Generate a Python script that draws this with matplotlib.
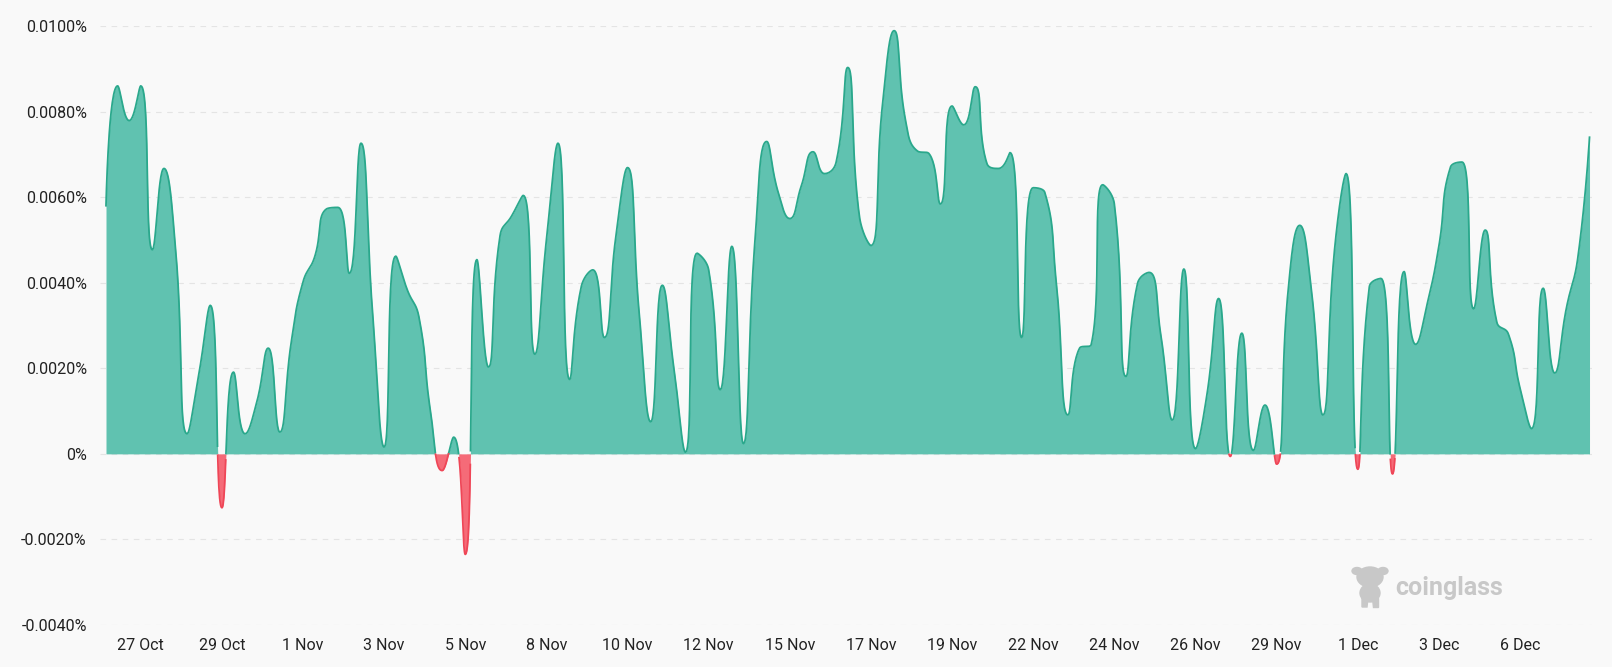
import numpy as np
import pandas as pd
import matplotlib
matplotlib.use("Agg")
import matplotlib.pyplot as plt
from matplotlib.ticker import FixedLocator, FuncFormatter
from matplotlib.patches import Ellipse, Polygon
from matplotlib.transforms import IdentityTransform

# ---------------- data (funding rate, %) ----------------
start_time = "2024-10-26 08:00"
interval = "8h"
funding_rate = [
    0.00580, 0.00860, 0.00779, 0.00860, 0.00477, 0.00667, 0.00480, 0.00047, 0.00185, 0.00347,
    -0.00126, 0.00191, 0.00047, 0.00120, 0.00247, 0.00051, 0.00264, 0.00402, 0.00460, 0.00572,
    0.00576, 0.00422, 0.00726, 0.00330, 0.00016, 0.00462, 0.00383, 0.00320, 0.00099, -0.00039,
    0.00039, -0.00235, 0.00454, 0.00203, 0.00510, 0.00556, 0.00604, 0.00233, 0.00500, 0.00726,
    0.00174, 0.00390, 0.00430, 0.00272, 0.00510, 0.00669, 0.00330, 0.00075, 0.00394, 0.00200,
    0.00004, 0.00469, 0.00430, 0.00150, 0.00485, 0.00024, 0.00500, 0.00730, 0.00611, 0.00550,
    0.00627, 0.00706, 0.00655, 0.00682, 0.00903, 0.00556, 0.00487, 0.00817, 0.00989, 0.00777,
    0.00708, 0.00702, 0.00584, 0.00813, 0.00769, 0.00858, 0.00679, 0.00667, 0.00704, 0.00272,
    0.00622, 0.00611, 0.00398, 0.00091, 0.00247, 0.00255, 0.00629, 0.00584, 0.00181, 0.00398,
    0.00424, 0.00280, 0.00079, 0.00432, 0.00012, 0.00140, 0.00363, -0.00006, 0.00282, 0.00008,
    0.00114, -0.00024, 0.00383, 0.00534, 0.00383, 0.00091, 0.00477, 0.00655, -0.00036, 0.00390,
    0.00410, -0.00047, 0.00426, 0.00256, 0.00351, 0.00485, 0.00670, 0.00682, 0.00339, 0.00523,
    0.00308, 0.00280, 0.00154, 0.00059, 0.00387, 0.00189, 0.00340, 0.00460, 0.00740,
]
tick_start = "2024-10-27 08:00"
tick_step = "56h"
tick_labels = ["27 Oct", "29 Oct", "1 Nov", "3 Nov", "5 Nov", "8 Nov", "10 Nov", "12 Nov",
               "15 Nov", "17 Nov", "19 Nov", "22 Nov", "24 Nov", "26 Nov", "29 Nov",
               "1 Dec", "3 Dec", "6 Dec"]
y_ticks = [-0.004, -0.002, 0.0, 0.002, 0.004, 0.006, 0.008, 0.010]

times = pd.date_range(start_time, periods=len(funding_rate), freq=interval)
tick_times = pd.date_range(tick_start, periods=len(tick_labels), freq=tick_step)
tick_idx = [times.get_loc(t) for t in tick_times]

# ---------------- figure layout ----------------
W, H = 1612, 667
fig = plt.figure(figsize=(W / 100, H / 100), dpi=100)
bg = "#f9f9f9"
fig.patch.set_facecolor(bg)
ax_l, ax_r, ax_t, ax_b = 100, 1592, 26, 625
ax = fig.add_axes([ax_l / W, 1 - ax_b / H, (ax_r - ax_l) / W, (ax_b - ax_t) / H])
ax.set_facecolor(bg)

px_per_idx = 11.59
x0 = -6 / px_per_idx
ax.set_xlim(x0, x0 + (ax_r - ax_l) / px_per_idx)
ax.set_ylim(-0.004, 0.010)
px_per_unit = (ax_b - ax_t) / 0.014


# ---------------- smooth curve (echarts-like bezier smoothing) ----------------
def smooth_curve(xd, yd, sx, sy, smooth=0.5, n=30):
    X = np.asarray(xd, float) * sx
    Y = np.asarray(yd, float) * sy
    N = len(X)
    cin = [(X[i], Y[i]) for i in range(N)]
    cout = [(X[i], Y[i]) for i in range(N)]
    for i in range(1, N - 1):
        x, y = X[i], Y[i]
        px, py, nx, ny = X[i - 1], Y[i - 1], X[i + 1], Y[i + 1]
        vx, vy = nx - px, ny - py
        l0 = np.hypot(x - px, y - py)
        l1 = np.hypot(nx - x, ny - y)
        r = l1 / (l0 + l1)
        ncx = x + vx * smooth * r
        ncy = y + vy * smooth * r
        ncx = min(max(ncx, min(nx, x)), max(nx, x))
        ncy = min(max(ncy, min(ny, y)), max(ny, y))
        vx, vy = ncx - x, ncy - y
        c1x = x - vx * l0 / l1
        c1y = y - vy * l0 / l1
        c1x = min(max(c1x, min(px, x)), max(px, x))
        c1y = min(max(c1y, min(py, y)), max(py, y))
        vx, vy = x - c1x, y - c1y
        ncx = x + vx * l1 / l0
        ncy = y + vy * l1 / l0
        cin[i] = (c1x, c1y)
        cout[i] = (ncx, ncy)
    t = np.linspace(0, 1, n, endpoint=False)[:, None]
    pts = []
    for i in range(N - 1):
        p0 = np.array([X[i], Y[i]])
        p1 = np.array(cout[i])
        p2 = np.array(cin[i + 1])
        p3 = np.array([X[i + 1], Y[i + 1]])
        b = ((1 - t) ** 3) * p0 + 3 * ((1 - t) ** 2) * t * p1 + 3 * (1 - t) * t ** 2 * p2 + t ** 3 * p3
        pts.append(b)
    pts.append(np.array([[X[-1], Y[-1]]]))
    pts = np.vstack(pts)
    return pts[:, 0] / sx, pts[:, 1] / sy


idx = np.arange(len(funding_rate))
xs, ys = smooth_curve(idx, funding_rate, px_per_idx, px_per_unit)

green_fill = "#60c2b0"
green_line = "#2aa88c"
red_fill = "#f56b78"
red_line = "#ef4657"

ax.fill_between(xs, np.maximum(ys, 0), 0, color=green_fill, lw=0, zorder=2)
ax.fill_between(xs, np.minimum(ys, 0), 0, color=red_fill, lw=0, zorder=2)
ax.plot(xs, np.where(ys >= -1e-7, ys, np.nan), color=green_line, lw=1.3, zorder=3,
        solid_joinstyle="round")
ax.plot(xs, np.where(ys <= 1e-7, ys, np.nan), color=red_line, lw=1.3, zorder=3,
        solid_joinstyle="round")

# ---------------- axes styling ----------------
for s in ax.spines.values():
    s.set_visible(False)
ax.yaxis.set_major_locator(FixedLocator(y_ticks))


def pct(v, _):
    if abs(v) < 1e-12:
        return "0%"
    return f"{v:.4f}%"


ax.yaxis.set_major_formatter(FuncFormatter(pct))
ax.set_xticks(tick_idx)
ax.set_xticklabels(tick_labels)
ax.grid(axis="y", color="#e4e4e4", lw=0.8, linestyle=(0, (5, 5)), zorder=0)
ax.grid(axis="x", visible=False)
ax.tick_params(axis="y", length=0, pad=9.5, labelsize=11.5, labelcolor="#222222")
ax.tick_params(axis="x", length=0, pad=9, labelsize=11.5, labelcolor="#222222")
for lab in ax.get_xticklabels() + ax.get_yticklabels():
    lab.set_fontfamily("Roboto")

# ---------------- watermark ----------------
wm = "#c8c8c8"
fig.text(1395 / W, 1 - 588 / H, "coinglass", fontsize=18, fontweight="bold",
         color=wm, ha="left", va="center", family="Roboto")
T = IdentityTransform()


def P(x, y):
    return (x, H - y)


fig.add_artist(Ellipse(P(1370, 577), 26, 20, color=wm, transform=T))
fig.add_artist(Ellipse(P(1357, 571), 10, 7, color=wm, transform=T))
fig.add_artist(Ellipse(P(1383, 571), 10, 7, color=wm, transform=T))
fig.add_artist(Ellipse(P(1370, 593), 20, 18, color=wm, transform=T))
fig.add_artist(Polygon([P(1362, 598), P(1368, 598), P(1367, 607), P(1362, 607)],
                       closed=True, color=wm, transform=T))
fig.add_artist(Polygon([P(1372, 598), P(1378, 598), P(1378, 607), P(1373, 607)],
                       closed=True, color=wm, transform=T))

fig.savefig("out.png", dpi=100, facecolor=fig.get_facecolor())
